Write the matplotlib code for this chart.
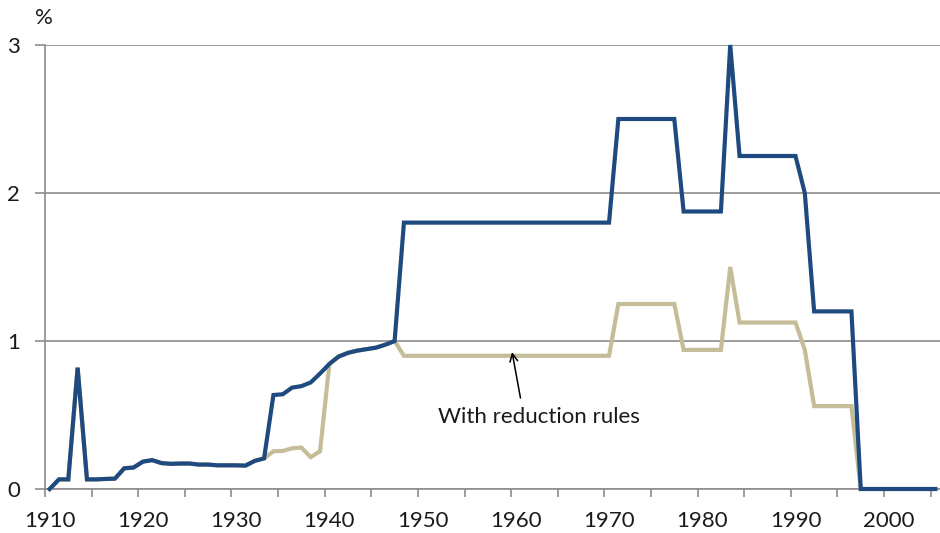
import matplotlib
matplotlib.use("Agg")
import matplotlib.pyplot as plt
from matplotlib.ticker import FixedLocator

BLUE = "#1f4a80"
TAN = "#c4bd97"
AXIS_GREY = "#8c8c8c"
TEXT = "#1a1a1a"

plt.rcParams["font.family"] = ["Lato", "DejaVu Sans"]

years = list(range(1910, 2006))

# without reduction rules (%)
standard = [
    0.0, 0.065, 0.065, 0.82, 0.065, 0.065, 0.068, 0.07, 0.14, 0.145,      # 1910s
    0.185, 0.195, 0.175, 0.17, 0.172, 0.172, 0.165, 0.165, 0.16, 0.16,    # 1920s
    0.16, 0.158, 0.19, 0.207, 0.635, 0.64, 0.685, 0.695, 0.72, 0.78,      # 1930s
    0.845, 0.895, 0.92, 0.935, 0.945, 0.955, 0.975, 1.0, 1.8, 1.8,        # 1940s
    1.8, 1.8, 1.8, 1.8, 1.8, 1.8, 1.8, 1.8, 1.8, 1.8,                     # 1950s
    1.8, 1.8, 1.8, 1.8, 1.8, 1.8, 1.8, 1.8, 1.8, 1.8,                     # 1960s
    1.8, 2.5, 2.5, 2.5, 2.5, 2.5, 2.5, 2.5, 1.875, 1.875,                 # 1970s
    1.875, 1.875, 1.875, 3.0, 2.25, 2.25, 2.25, 2.25, 2.25, 2.25,         # 1980s
    2.25, 2.0, 1.2, 1.2, 1.2, 1.2, 1.2, 0.0, 0.0, 0.0,                    # 1990s
    0.0, 0.0, 0.0, 0.0, 0.0, 0.0,                                         # 2000s
]

# with reduction rules (%)
reduced = [
    0.0, 0.065, 0.065, 0.82, 0.065, 0.065, 0.068, 0.07, 0.14, 0.145,
    0.185, 0.195, 0.175, 0.17, 0.172, 0.172, 0.165, 0.165, 0.16, 0.16,
    0.16, 0.158, 0.19, 0.207, 0.255, 0.257, 0.275, 0.28, 0.215, 0.255,
    0.845, 0.895, 0.92, 0.935, 0.945, 0.955, 0.975, 1.0, 0.9, 0.9,
    0.9, 0.9, 0.9, 0.9, 0.9, 0.9, 0.9, 0.9, 0.9, 0.9,
    0.9, 0.9, 0.9, 0.9, 0.9, 0.9, 0.9, 0.9, 0.9, 0.9,
    0.9, 1.25, 1.25, 1.25, 1.25, 1.25, 1.25, 1.25, 0.94, 0.94,
    0.94, 0.94, 0.94, 1.5, 1.125, 1.125, 1.125, 1.125, 1.125, 1.125,
    1.125, 0.94, 0.56, 0.56, 0.56, 0.56, 0.56, 0.0, 0.0, 0.0,
    0.0, 0.0, 0.0, 0.0, 0.0, 0.0,
]

label_years = [1910, 1920, 1930, 1940, 1950, 1960, 1970, 1980, 1990, 2000]
y_ticks = [0, 1, 2, 3]

fig = plt.figure(figsize=(9.4, 5.33), dpi=100, facecolor="white")
ax = fig.add_axes([45 / 940, 1 - 489 / 533, 1 - 45 / 940, (489 - 45) / 533])

ax.plot(years, reduced, color=TAN, lw=3.0, solid_joinstyle="miter", zorder=3, clip_on=False)
ax.plot(years, standard, color=BLUE, lw=3.0, solid_joinstyle="miter", zorder=4, clip_on=False)

ax.set_xlim(years[0] - 0.5, years[-1] + 0.5)
ax.set_ylim(0, 3)

# category style axis: labels at the year, marks between categories
ax.set_xticks(label_years)
ax.set_xticklabels([str(y) for y in label_years])
ax.xaxis.set_minor_locator(FixedLocator([y - 0.5 for y in range(1910, 2006, 5)]))
ax.tick_params(axis="x", which="major", length=0, pad=16, labelsize=16, labelcolor=TEXT)
ax.tick_params(axis="x", which="minor", length=6, width=1.2, color=AXIS_GREY, direction="out")

ax.set_yticks(y_ticks)
ax.set_yticklabels([str(v) for v in y_ticks])
ax.tick_params(axis="y", length=7, width=1.2, color=AXIS_GREY, pad=11, labelsize=16, labelcolor=TEXT)

ax.grid(axis="y", color=AXIS_GREY, lw=1.2, zorder=1)
ax.set_axisbelow(True)
for side in ["top", "right"]:
    ax.spines[side].set_visible(False)
for side in ["left", "bottom"]:
    ax.spines[side].set_color(AXIS_GREY)
    ax.spines[side].set_linewidth(1.2)

ax.text(-0.001, 1.061, "%", transform=ax.transAxes, fontsize=16, color=TEXT,
        ha="center", va="center")

ax.annotate("", xy=(1959.6, 0.925), xytext=(1960.5, 0.615),
            arrowprops=dict(arrowstyle="->", color="black", lw=1.1,
                            shrinkA=0, shrinkB=0, mutation_scale=14), zorder=5)
ax.text(1962.5, 0.487, "With reduction rules", fontsize=16, color=TEXT,
        ha="center", va="center", zorder=5)

fig.savefig("out.png", dpi=100, facecolor="white")
